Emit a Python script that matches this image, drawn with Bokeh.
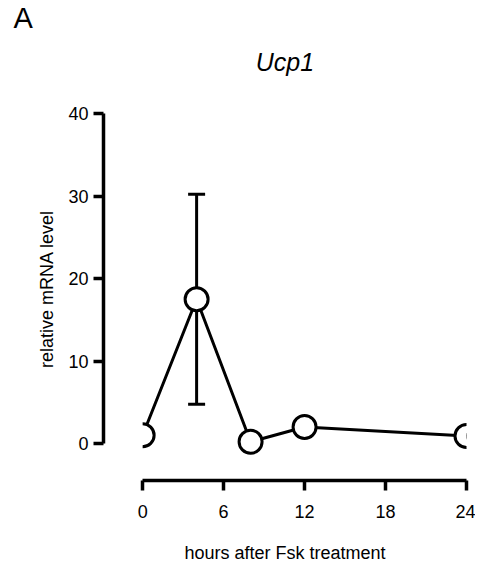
from bokeh.plotting import figure
from bokeh.models import Title, BoxAnnotation, Whisker, ColumnDataSource, FixedTicker, Range1d
from bokeh.embed import file_html
from bokeh.resources import INLINE

# data
hours = [0, 4, 8, 12, 24]
mrna = [1.0, 17.5, 0.2, 2.0, 0.9]
err = [0.3, 12.75, 0.1, 0.4, 0.2]
x_ticks = [0, 6, 12, 18, 24]
y_ticks = [0, 10, 20, 30, 40]

upper = [m + e for m, e in zip(mrna, err)]
lower = [m - e for m, e in zip(mrna, err)]
src = ColumnDataSource(dict(x=hours, y=mrna, upper=upper, lower=lower))

FONT = "Liberation Sans"

p = figure(width=475, height=566, x_range=Range1d(-2.9, 24), y_range=Range1d(-4.5, 42),
           output_backend="svg", toolbar_location=None, title="A",
           min_border_left=103, min_border_right=9, min_border_top=97, min_border_bottom=86)

p.title.align = "left"
p.title.offset = -90
p.title.standoff = -20
p.title.text_font = FONT
p.title.text_font_style = "normal"
p.title.text_font_size = "29px"
p.title.text_color = "black"
p.add_layout(Title(text="Ucp1", align="center", text_font=FONT, standoff=44,
                   text_font_size="25px", text_font_style="italic", text_color="black"), "above")

p.outline_line_color = None
p.xgrid.grid_line_color = None
p.ygrid.grid_line_color = None

for ax in (p.xaxis[0], p.yaxis[0]):
    ax.axis_line_width = 3.5
    ax.axis_line_color = "black"
    ax.major_tick_line_width = 3.5
    ax.major_tick_line_color = "black"
    ax.major_tick_out = 10
    ax.major_tick_in = 0
    ax.minor_tick_line_color = None
    ax.major_label_text_font = FONT
    ax.major_label_text_font_size = "18px"
    ax.major_label_text_color = "black"
    ax.axis_label_text_font = FONT
    ax.axis_label_text_font_size = "18px"
    ax.axis_label_text_font_style = "normal"
    ax.axis_label_text_color = "black"

p.xaxis.bounds = (0, 24)
p.xaxis.ticker = FixedTicker(ticks=x_ticks)
p.xaxis.axis_label = "hours after Fsk treatment"
p.xaxis.major_label_standoff = 14
p.xaxis.axis_label_standoff = 22

p.yaxis.bounds = (0, 40)
p.yaxis.ticker = FixedTicker(ticks=y_ticks)
p.yaxis.axis_label = "relative mRNA level"
p.yaxis.major_label_standoff = 5
p.yaxis.axis_label_standoff = 8

wh = Whisker(source=src, base="x", upper="upper", lower="lower", level="underlay",
             line_width=3, line_color="black")
wh.upper_head.size = 17
wh.upper_head.line_width = 3
wh.lower_head.size = 17
wh.lower_head.line_width = 3
p.add_layout(wh)

p.line("x", "y", source=src, line_width=3, line_color="black")
p.scatter("x", "y", source=src, size=23, fill_color="white", line_color="black", line_width=3)

# mimic the clipping of the first point at x = 0
cover = BoxAnnotation(right=0, fill_color="white", fill_alpha=1, line_color=None, level="glyph")
p.add_layout(cover)

open("out.html", "w").write(file_html(p, INLINE))
